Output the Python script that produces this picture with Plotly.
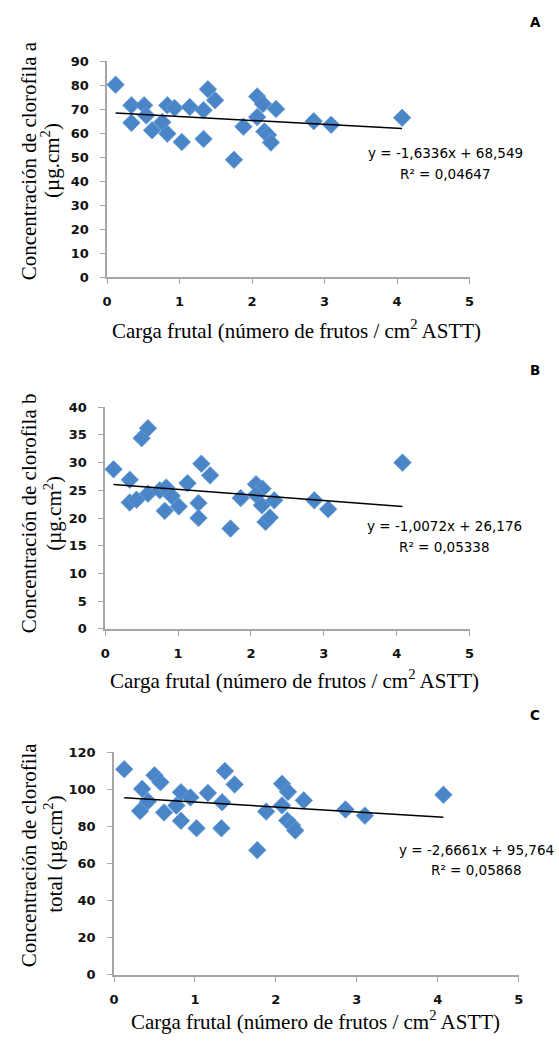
import plotly.graph_objects as go

W, H = 559, 1044

# ---------------- data ----------------
# Panel A: chlorophyll a
xa = [0.117, 0.335, 0.335, 0.51, 0.54, 0.62, 0.76, 0.83, 0.83, 0.93, 1.03, 1.14,
      1.33, 1.33, 1.39, 1.49, 1.75, 1.88, 2.07, 2.15, 2.07, 2.17, 2.22, 2.26, 2.33,
      2.85, 3.09, 4.07]
ya = [80.2, 71.6, 64.3, 71.6, 67.4, 61.2, 64.6, 71.6, 59.8, 70.5, 56.3, 70.9,
      69.6, 57.6, 78.3, 73.7, 48.9, 62.7, 75.3, 72.2, 66.7, 60.7, 59.2, 56.1, 70.1,
      65.0, 63.5, 66.4]
# Panel B: chlorophyll b
xb = [0.115, 0.337, 0.337, 0.43, 0.50, 0.587, 0.587, 0.75, 0.837, 0.817, 0.913,
      1.01, 1.13, 1.28, 1.28, 1.32, 1.44, 1.72, 1.86, 2.07, 2.16, 2.07, 2.15, 2.20,
      2.26, 2.32, 2.87, 3.06, 4.08]
yb = [28.8, 26.9, 22.8, 23.3, 34.4, 36.2, 24.4, 25.0, 25.5, 21.3, 24.0,
      22.1, 26.3, 22.7, 20.0, 29.8, 27.7, 18.1, 23.6, 26.1, 25.3, 24.2, 22.3, 19.3,
      20.1, 23.2, 23.2, 21.6, 30.0]
# Panel C: total chlorophyll
xc = [0.126, 0.348, 0.322, 0.42, 0.50, 0.574, 0.618, 0.77, 0.827, 0.827, 0.944,
      1.02, 1.16, 1.336, 1.327, 1.37, 1.49, 1.77, 1.88, 2.076, 2.15, 2.076, 2.14,
      2.20, 2.24, 2.345, 2.86, 3.10, 4.07]
yc = [110.8, 100.2, 88.3, 93.5, 107.6, 103.8, 87.5, 91.2, 98.4, 83.0, 95.6,
      79.0, 98.0, 93.0, 79.0, 109.8, 102.6, 67.2, 88.0, 103.0, 98.6, 91.3, 83.2,
      80.6, 77.8, 94.0, 89.1, 85.8, 97.0]

# trendline coefficients (from the chart equations)
slope_a, icpt_a, r2_a = -1.6336, 68.549, "0,04647"
slope_b, icpt_b, r2_b = -1.0072, 26.176, "0,05338"
slope_c, icpt_c, r2_c = -2.6661, 95.764, "0,05868"

x_ticks = [0, 1, 2, 3, 4, 5]
ya_ticks = list(range(0, 91, 10))
yb_ticks = list(range(0, 41, 5))
yc_ticks = list(range(0, 121, 20))

# ---------------- styling ----------------
BLUE = "#4A85C8"
AXC = "#A6A6A6"
TICKFONT = dict(family="DejaVu Sans", size=13, color="#111111", weight="bold")
SERIF = "Liberation Serif"


def px(x):
    return x / W


def py(y):
    return 1 - y / H


panels = [
    dict(x=xa, y=ya, s=slope_a, b=icpt_a, r2=r2_a, yt=ya_ticks, yr=[0, 90],
         xd=(104, 473), yd=(55, 274)),
    dict(x=xb, y=yb, s=slope_b, b=icpt_b, r2=r2_b, yt=yb_ticks, yr=[0, 40],
         xd=(102, 473), yd=(406, 631)),
    dict(x=xc, y=yc, s=slope_c, b=icpt_c, r2=r2_c, yt=yc_ticks, yr=[0, 120],
         xd=(111, 523), yd=(756, 982)),
]

fig = go.Figure()
layout = dict(width=W, height=H, autosize=False,
              margin=dict(l=0, r=0, t=0, b=0),
              paper_bgcolor="white", plot_bgcolor="white",
              showlegend=False)

for i, p in enumerate(panels):
    n = "" if i == 0 else str(i + 1)
    xref = "x" + n
    yref = "y" + n
    fig.add_trace(go.Scatter(
        x=p["x"], y=p["y"], mode="markers", xaxis=xref, yaxis=yref,
        marker=dict(symbol="diamond", size=13.5, color=BLUE,
                    line=dict(width=0.8, color="#6A9DD6")),
        cliponaxis=False))
    x0, x1 = min(p["x"]), max(p["x"])
    fig.add_trace(go.Scatter(
        x=[x0, x1], y=[p["s"] * x0 + p["b"], p["s"] * x1 + p["b"]],
        mode="lines", xaxis=xref, yaxis=yref,
        line=dict(color="black", width=1.5)))
    layout["xaxis" + n] = dict(
        domain=[px(p["xd"][0]), px(p["xd"][1])], anchor=yref, range=[0, 5],
        tickvals=x_ticks, ticks="outside", ticklen=5, tickcolor=AXC,
        showline=True, linecolor=AXC, linewidth=1.5, showgrid=False,
        zeroline=False, tickfont=TICKFONT, ticklabelstandoff=7)
    layout["yaxis" + n] = dict(
        domain=[py(p["yd"][1]), py(p["yd"][0])], anchor=xref, range=p["yr"],
        tickvals=p["yt"], ticks="outside", ticklen=5, tickcolor=AXC,
        showline=True, linecolor=AXC, linewidth=1.5, showgrid=False,
        zeroline=False, tickfont=TICKFONT, ticklabelstandoff=9)

fig.update_layout(**layout)

ann = []
xtitle = "Carga frutal (número de frutos / cm<sup>2</sup> ASTT)"


def A(text, x, y, size, family, angle=0, weight="normal", xanchor="center"):
    ann.append(dict(text=text, x=px(x), y=py(y), xref="paper", yref="paper",
                    showarrow=False, textangle=angle, xanchor=xanchor,
                    yanchor="middle",
                    font=dict(size=size, family=family, color="black",
                              weight=weight)))


# Panel A
A("A", 540, 15, 13.5, "DejaVu Sans", weight="bold")
A(xtitle, 297, 327, 21, SERIF)
A("Concentración de clorofila a", 24, 156, 21, SERIF, angle=-90)
A("(µg.cm<sup>2</sup>)", 47, 156, 21, SERIF, angle=-90)
A(f"y = {slope_a:.4f}x + {icpt_a:.3f}".replace(".", ","), 449, 148, 13.5, "DejaVu Sans")
A(f"R² = {r2_a}", 449, 169, 13.5, "DejaVu Sans")

# Panel B
A("B", 540, 368, 13.5, "DejaVu Sans", weight="bold")
A(xtitle, 295, 682, 21, SERIF)
A("Concentración de clorofila b", 24, 514, 21, SERIF, angle=-90)
A("(µg.cm<sup>2</sup>)", 49, 514, 21, SERIF, angle=-90)
A(f"y = {slope_b:.4f}x + {icpt_b:.3f}".replace(".", ","), 448, 527, 13.5, "DejaVu Sans")
A(f"R² = {r2_b}", 448, 548, 13.5, "DejaVu Sans")

# Panel C
A("C", 540, 718, 13.5, "DejaVu Sans", weight="bold")
A(xtitle, 316, 1028, 21, SERIF)
A("Concentración de clorofila", 24, 860, 21, SERIF, angle=-90)
A("total (µg.cm<sup>2</sup>)", 50, 860, 21, SERIF, angle=-90)
A(f"y = {slope_c:.4f}x + {icpt_c:.3f}".replace(".", ","), 480, 855, 13.5, "DejaVu Sans")
A(f"R² = {r2_c}", 480, 876, 13.5, "DejaVu Sans")

fig.update_layout(annotations=ann)
fig.write_html("out.html")
